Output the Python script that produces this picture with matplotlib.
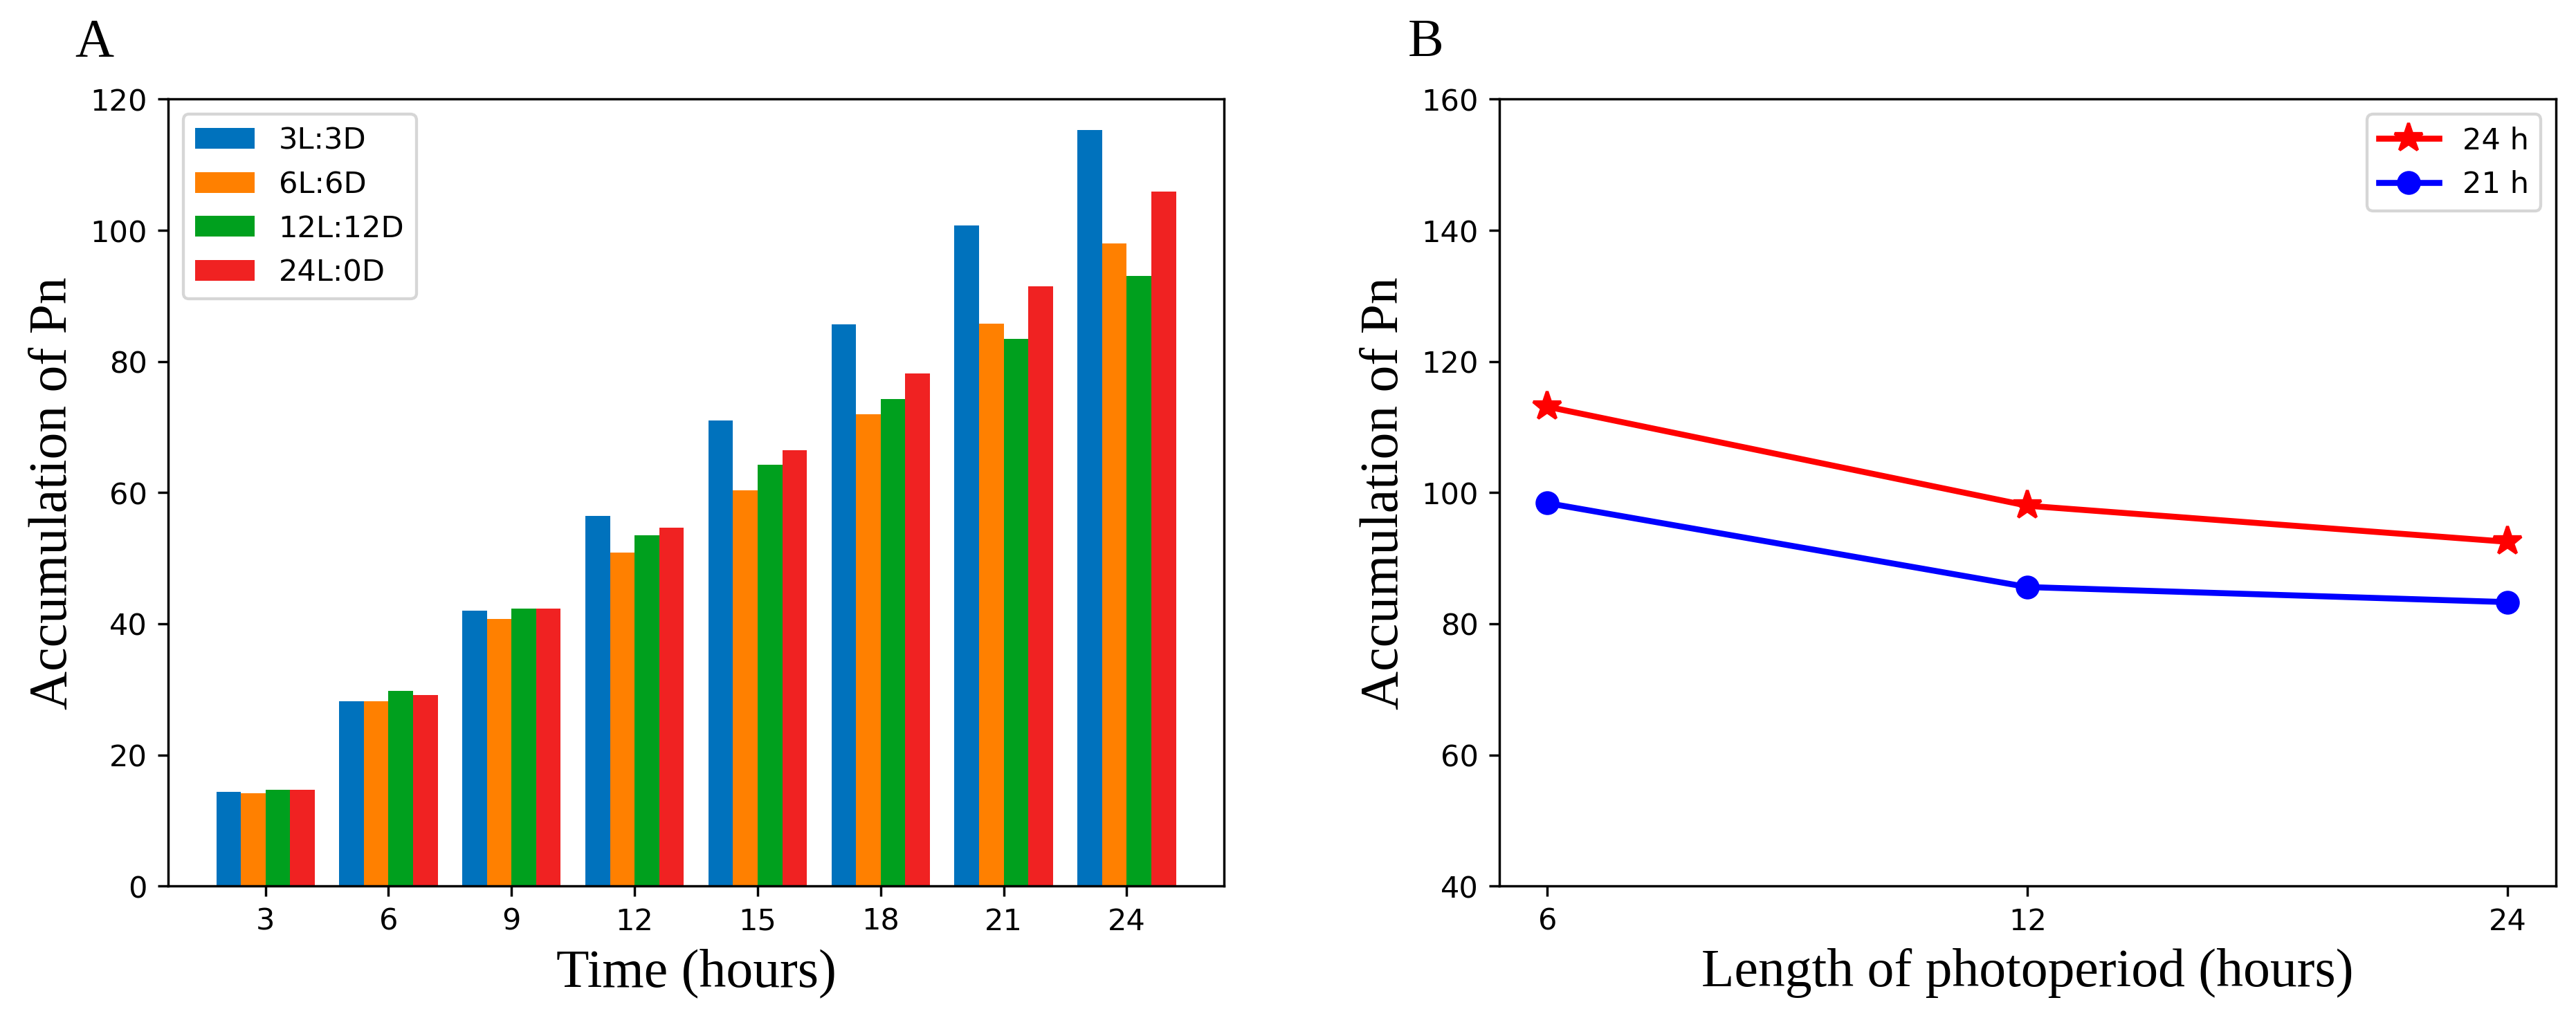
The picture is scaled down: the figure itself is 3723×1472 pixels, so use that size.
import numpy as np
import matplotlib
matplotlib.use("Agg")
import matplotlib.pyplot as plt

# Panel A data: accumulation of Pn over time for each photoperiod
times = [3, 6, 9, 12, 15, 18, 21, 24]
series_names = ["3L:3D", "6L:6D", "12L:12D", "24L:0D"]
pn_3l3d = [14.4, 28.2, 42.0, 56.4, 71.0, 85.7, 100.7, 115.3]
pn_6l6d = [14.1, 28.2, 40.7, 50.9, 60.3, 72.0, 85.8, 98.0]
pn_12l12d = [14.7, 29.8, 42.3, 53.5, 64.3, 74.3, 83.4, 93.1]
pn_24l0d = [14.7, 29.1, 42.3, 54.7, 66.5, 78.2, 91.5, 105.9]

# Panel B data: accumulation vs photoperiod length
photoperiods = ["6", "12", "24"]
acc_24h = [113.1, 98.0, 92.5]
acc_21h = [98.4, 85.6, 83.3]

bar_colors = ["#0072BD", "#FF8000", "#00A01E", "#F02222"]

fig = plt.figure(figsize=(12, 4.745), dpi=310.33)
ax1 = fig.add_axes([0.0653, 0.1296, 0.4097, 0.7726])
ax2 = fig.add_axes([0.5819, 0.1296, 0.4100, 0.7726])

serif = ["Liberation Serif", "DejaVu Serif"]

# --- A: grouped bars
x = np.arange(len(times))
width = 0.2
all_series = [pn_3l3d, pn_6l6d, pn_12l12d, pn_24l0d]
for i, vals in enumerate(all_series):
    ax1.bar(x + (i - 1.5) * width, vals, width, color=bar_colors[i], label=series_names[i])
ax1.set_xticks(x)
ax1.set_xticklabels([str(t) for t in times])
ax1.set_ylim(0, 120)
ax1.set_xlabel("Time (hours)", fontsize=18, family=serif)
ax1.set_ylabel("Accumulation of Pn", fontsize=18, family=serif)
ax1.legend(loc="upper left")

# --- B: lines
xb = np.arange(len(photoperiods))
ax2.plot(xb, acc_24h, color="red", marker="*", markersize=10, linewidth=2, label="24 h")
ax2.plot(xb, acc_21h, color="blue", marker="o", markersize=7, linewidth=2, label="21 h")
ax2.set_xticks(xb)
ax2.set_xticklabels(photoperiods)
ax2.set_ylim(40, 160)
ax2.set_xlabel("Length of photoperiod (hours)", fontsize=18, family=serif)
ax2.set_ylabel("Accumulation of Pn", fontsize=18, family=serif)
ax2.legend(loc="upper right")

# panel letters
fig.text(0.029, 0.982, "A", fontsize=18, family=serif, va="top")
fig.text(0.5465, 0.982, "B", fontsize=18, family=serif, va="top")

fig.savefig("out.png", dpi=310.33)
